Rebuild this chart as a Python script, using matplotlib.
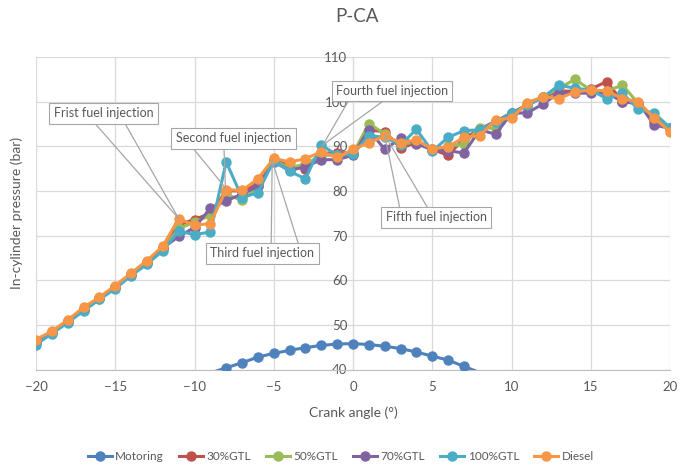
import matplotlib
matplotlib.use("Agg")
import matplotlib.pyplot as plt
from matplotlib.lines import Line2D

plt.rcParams['font.family'] = ['Lato', 'DejaVu Sans']

# Crank angle (degrees) for the fuelled runs
angles = list(range(-20, 21))

diesel = [46.7, 48.6, 51.1, 53.9, 56.2, 58.8, 61.6, 64.4, 67.6,
          73.8, 72.3, 72.7, 80.3, 80.1, 82.7, 87.3, 86.5, 87.2, 88.8, 87.5,
          89.3, 90.8, 92.3, 90.8, 91.4, 89.4, 89.9, 92.0, 92.4, 95.9,
          96.3, 99.8, 101.1, 100.7, 102.2, 102.6, 102.4, 100.7, 100.0, 96.3, 93.3]
gtl100 = [45.6, 48.0, 50.5, 53.1, 55.7, 58.1, 61.0, 63.6, 66.6,
          71.0, 70.2, 70.8, 86.5, 78.5, 79.6, 86.8, 84.4, 82.7, 90.3, 88.0,
          88.2, 92.4, 92.0, 90.3, 93.8, 88.9, 92.0, 93.5, 93.7, 95.5,
          97.4, 99.2, 101.0, 103.7, 103.0, 102.6, 100.7, 101.9, 98.3, 97.4, 94.2]
gtl30 = [46.2, 48.4, 50.8, 53.5, 56.0, 58.5, 61.3, 64.0, 67.2,
         72.5, 73.6, 75.0, 80.0, 80.0, 81.6, 87.0, 85.6, 85.0, 88.4, 88.6,
         88.5, 93.6, 93.3, 89.6, 90.8, 89.3, 88.0, 91.7, 93.9, 95.6,
         97.5, 99.3, 101.0, 102.4, 102.3, 102.8, 104.5, 100.0, 99.5, 95.5, 94.0]
gtl50 = [46.0, 48.3, 50.7, 53.4, 55.9, 58.4, 61.2, 63.9, 67.0,
         71.6, 73.0, 74.5, 79.2, 77.9, 81.0, 86.8, 85.2, 86.0, 88.0, 88.0,
         88.3, 95.1, 92.8, 90.4, 91.0, 89.3, 90.0, 90.5, 94.2, 94.0,
         97.3, 99.0, 101.1, 103.0, 105.0, 102.6, 102.4, 103.7, 99.6, 96.5, 93.8]
gtl70 = [46.1, 48.4, 50.8, 53.5, 56.0, 58.5, 61.3, 64.0, 67.2,
         69.8, 71.8, 76.1, 77.8, 79.3, 81.0, 86.5, 84.6, 85.4, 87.0, 87.0,
         88.0, 93.7, 89.3, 91.8, 90.6, 89.2, 89.0, 88.5, 93.7, 92.7,
         97.4, 97.5, 99.5, 102.0, 101.9, 101.9, 102.0, 100.0, 99.8, 94.8, 94.0]

# Motoring (no combustion) pressure trace
motoring_angles = list(range(-10, 10))
motoring = [37.9, 39.2, 40.4, 41.5, 42.8, 43.6, 44.3, 44.9, 45.4, 45.7,
            45.8, 45.6, 45.2, 44.7, 43.9, 43.0, 42.1, 40.7, 39.3, 37.8]

series_names = ['Motoring', '30%GTL', '50%GTL', '70%GTL', '100%GTL', 'Diesel']
series_colors = ['#4F81BD', '#C0504D', '#9BBB59', '#8064A2', '#4BACC6', '#F79646']

x_ticks = [-20, -15, -10, -5, 0, 5, 10, 15, 20]
y_ticks = [40, 50, 60, 70, 80, 90, 100, 110]
Y_MIN, Y_MAX = 40, 110

# Injection callouts: label, box centre, leader tip, leader base x-offsets, box edge
callouts = [
    ("Frist fuel injection", (-15.74, 97.4), (-11.0, 73.8), (-0.55, 1.35), 'bottom'),
    ("Second fuel injection", (-7.54, 91.8), (-8.05, 80.7), (-2.55, -0.6), 'bottom'),
    ("Third fuel injection", (-5.71, 66.05), (-5.1, 86.8), (0.55, 2.25), 'top'),
    ("Fourth fuel injection", (2.46, 102.4), (-1.9, 90.3), (-2.75, -0.55), 'bottom'),
    ("Fifth fuel injection", (5.24, 74.1), (2.0, 92.5), (-2.3, -0.55), 'top'),
]

TEXT = '#595959'
GRID = '#D9D9D9'

fig = plt.figure(figsize=(6.86, 4.72), dpi=100)
ax = fig.add_axes([36 / 686, 1 - 369.5 / 472, 634 / 686, 312.5 / 472])


def draw_series(xs, ys, color):
    # line runs off the plot area; markers only where the point is in range
    ax.plot(xs, ys, color=color, lw=2.2, zorder=3)
    shown = [(x, y) for x, y in zip(xs, ys) if Y_MIN <= y <= Y_MAX]
    ax.plot([p[0] for p in shown], [p[1] for p in shown], ls='none',
            marker='o', ms=6.5, color=color, zorder=3)


draw_series(motoring_angles, motoring, series_colors[0])
for vals, c in zip([gtl30, gtl50, gtl70, gtl100, diesel], series_colors[1:]):
    draw_series(angles, vals, c)

ax.set_xlim(-20, 20)
ax.set_ylim(Y_MIN, Y_MAX)
ax.set_xticks(x_ticks)
ax.set_yticks(y_ticks)
ax.grid(True, color=GRID, lw=0.9, zorder=0)
ax.set_axisbelow(True)
for s in ['top', 'right']:
    ax.spines[s].set_visible(False)
ax.spines['left'].set_position(('data', 0))
ax.spines['left'].set_color(GRID)
ax.spines['bottom'].set_color('#BFBFBF')
ax.tick_params(length=0, labelsize=9.5, colors=TEXT)
ax.tick_params(axis='x', pad=8)
ax.tick_params(axis='y', pad=4)

ax.set_xlabel('Crank angle (°)', fontsize=10, color=TEXT, labelpad=10)
fig.text(17 / 686, 1 - 213 / 472, 'In-cylinder pressure (bar)', rotation=90,
         ha='center', va='center', fontsize=10, color=TEXT)
fig.text(357 / 686, 1 - 17 / 472, 'P-CA', ha='center', va='center',
         fontsize=13.5, color=TEXT)

half_h = 20 / 2 / 4.46  # box half height in data units
for label, (cx, cy), (tx, ty), (b0, b1), edge in callouts:
    ax.text(cx, cy, label, ha='center', va='center', fontsize=9, color=TEXT,
            zorder=11, clip_on=False,
            bbox=dict(boxstyle='square,pad=0.35', fc='white', ec='#A6A6A6', lw=0.8))
    by = cy - half_h if edge == 'bottom' else cy + half_h
    for b in (b0, b1):
        ax.plot([cx + b, tx], [by, ty], color='#A6A6A6', lw=0.9, zorder=10,
                clip_on=False)

handles = [Line2D([0], [0], color=c, lw=2.2, marker='o', ms=6.5) for c in series_colors]
fig.legend(handles, series_names, loc='center', bbox_to_anchor=(0.497, 1 - 457 / 472),
           ncol=6, frameon=False, fontsize=8.5, handlelength=2.0, columnspacing=1.3,
           handletextpad=0.3, labelcolor=TEXT)

fig.savefig('out.png', dpi=100)
